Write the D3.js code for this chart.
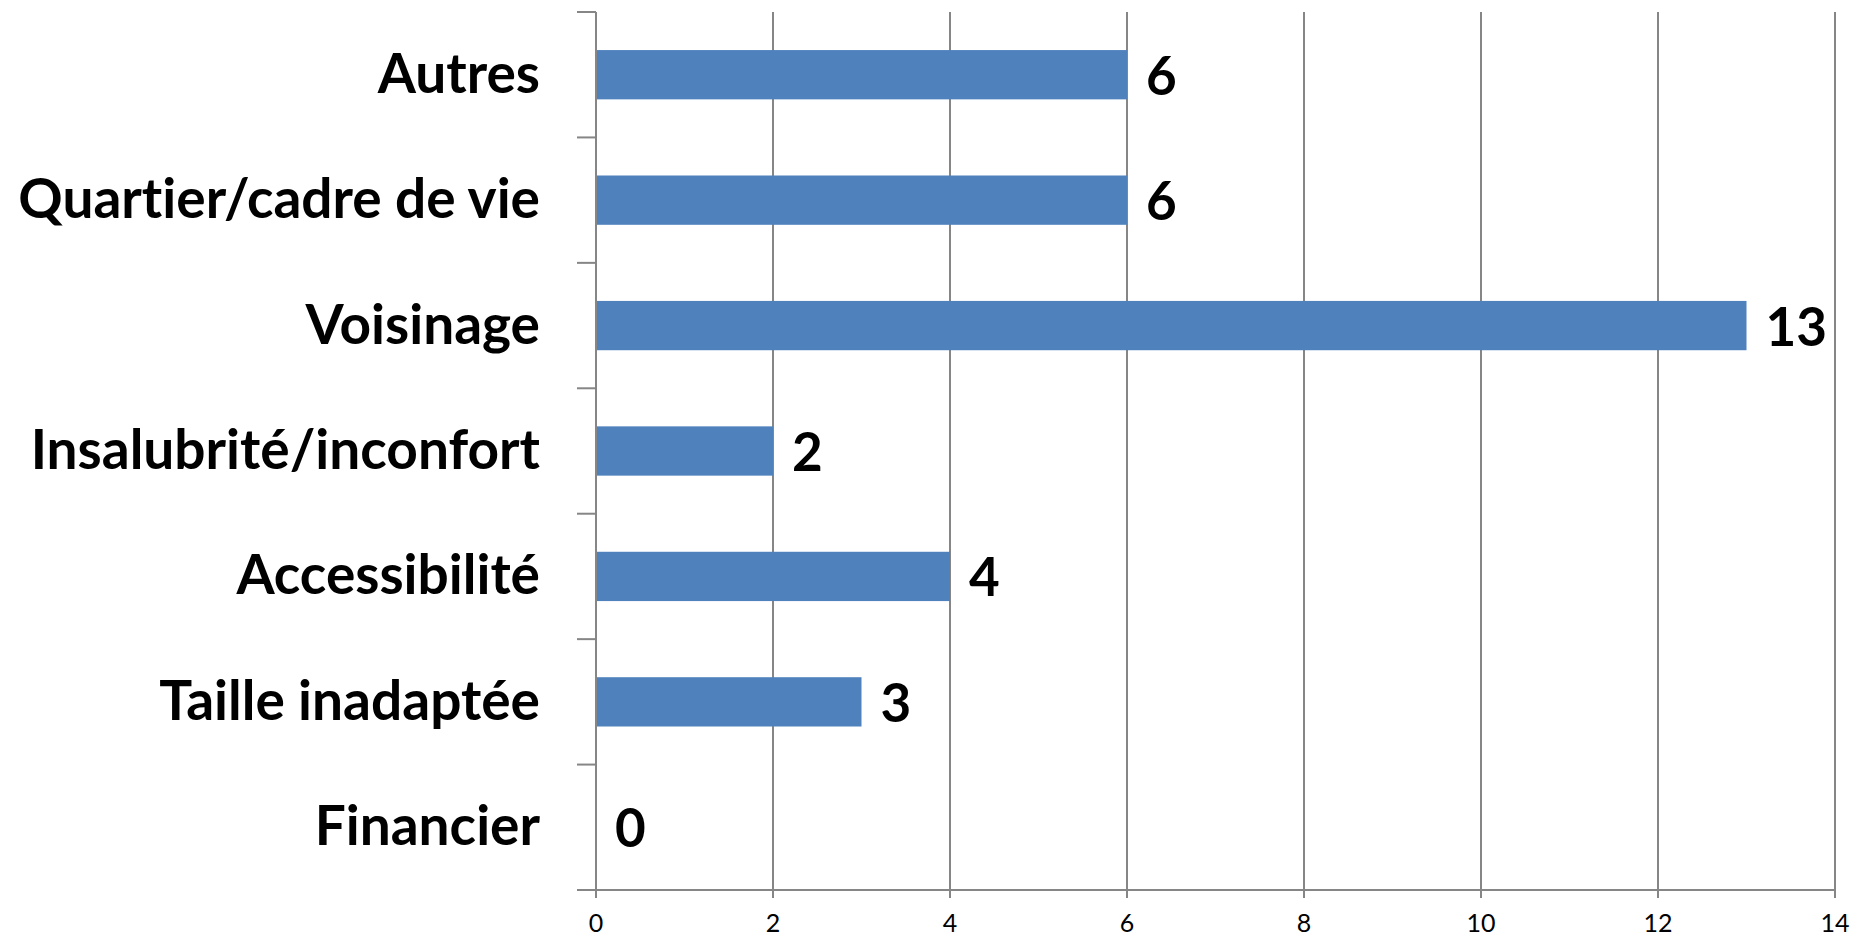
<!DOCTYPE html>
<html>
<head>
<meta charset="utf-8">
<script src="https://cdn.jsdelivr.net/npm/d3@7"></script>
<style>
  html, body { margin: 0; padding: 0; background: #fff; }
  svg { display: block; }
  text { font-variant-ligatures: none; }
</style>
</head>
<body>
<div id="chart"></div>
<script>
'use strict';

// data (top to bottom)
var categories = ["Autres", "Quartier/cadre de vie", "Voisinage", "Insalubrité/inconfort", "Accessibilité", "Taille inadaptée", "Financier"];
var values = [6, 6, 13, 2, 4, 3, 0];
var tickValues = [0, 2, 4, 6, 8, 10, 12, 14];

var width = 1867, height = 939;
var plot = { left : 596, right : 1835, top : 12, bottom : 890 };
var gridColor = "#868686", barColor = "#4F81BD";
var font = "Lato, 'Open Sans', sans-serif";

var svg = d3.select("#chart").//
append("svg").//
attr("width", width).//
attr("height", height);

var x = d3.scaleLinear().domain([0, 14]).range([plot.left, plot.right]);
var y = d3.scaleBand().domain(categories).range([plot.top, plot.bottom]).padding(0);
var barH = y.bandwidth() * 0.393;

// vertical gridlines
svg.append("g").selectAll("line").data(tickValues).enter().append("line").//
attr("x1", function(d) { return x(d); }).//
attr("x2", function(d) { return x(d); }).//
attr("y1", plot.top).//
attr("y2", plot.bottom + 8).//
attr("stroke", gridColor).//
attr("stroke-width", 2);

// bottom axis line
svg.append("line").//
attr("x1", plot.left - 19).attr("x2", plot.right).//
attr("y1", plot.bottom).attr("y2", plot.bottom).//
attr("stroke", gridColor).attr("stroke-width", 2);

// left axis ticks at band edges
var edges = categories.map(function(c) { return y(c); }).concat([plot.bottom]);
svg.append("g").selectAll("line").data(edges).enter().append("line").//
attr("x1", plot.left - 19).attr("x2", plot.left).//
attr("y1", function(d) { return d; }).//
attr("y2", function(d) { return d; }).//
attr("stroke", gridColor).attr("stroke-width", 2);

// bars
svg.append("g").selectAll("rect").data(values).enter().append("rect").//
attr("x", x(0) + 1).//
attr("y", function(d, i) { return y(categories[i]) + (y.bandwidth() - barH) / 2; }).//
attr("width", function(d) { return Math.max(0, x(d) - x(0) - 1); }).//
attr("height", barH).//
attr("fill", barColor);

// value labels
svg.append("g").selectAll("text").data(values).enter().append("text").//
attr("x", function(d) { return x(d) + 19; }).//
attr("y", function(d, i) { return y(categories[i]) + y.bandwidth() / 2 + 20; }).//
attr("font-family", font).//
attr("font-weight", "bold").//
attr("font-size", 53).//
attr("fill", "#000").//
text(function(d) { return d; });

// category labels
svg.append("g").selectAll("text").data(categories).enter().append("text").//
attr("x", 540).//
attr("y", function(d) { return y(d) + y.bandwidth() / 2 + 18; }).//
attr("text-anchor", "end").//
attr("font-family", font).//
attr("font-weight", "bold").//
attr("font-size", 55).//
attr("fill", "#000").//
text(function(d) { return d; });

// x tick labels
svg.append("g").selectAll("text").data(tickValues).enter().append("text").//
attr("x", function(d) { return x(d); }).//
attr("y", 932).//
attr("text-anchor", "middle").//
attr("font-family", font).//
attr("font-size", 25).//
attr("fill", "#000").//
text(function(d) { return d; });
</script>
</body>
</html>
